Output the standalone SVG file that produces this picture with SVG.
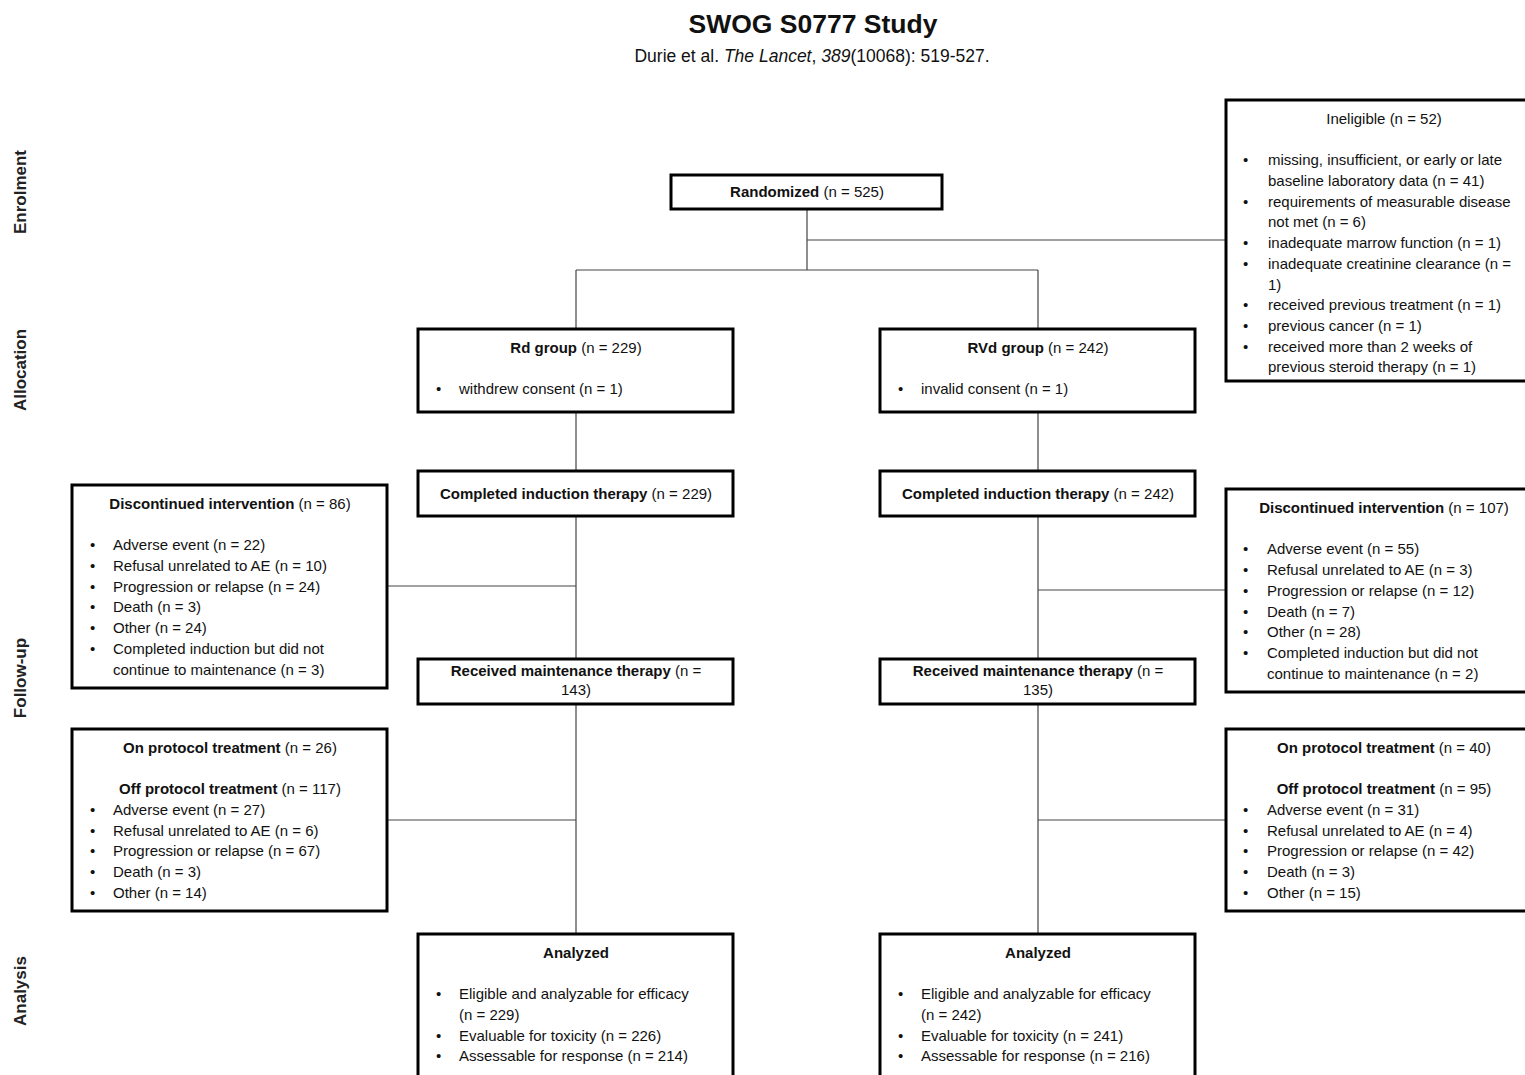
<svg xmlns="http://www.w3.org/2000/svg" width="1525" height="1075" viewBox="0 0 1525 1075">
<style>
text{font-family:"Liberation Sans",Arial,sans-serif;font-size:15px;fill:#111}
.b{font-weight:bold}
.c{text-anchor:middle}
.box{fill:#fff;stroke:#000;stroke-width:3}
.ln{stroke:#444;stroke-width:1.2;fill:none}
.ax{font-size:17px;text-anchor:middle;font-weight:bold;fill:#222}
</style>
<rect width="1525" height="1075" fill="#fff"/>
<g id="title">
<text x="813" y="33" class="b c" style="font-size:26.5px">SWOG S0777 Study</text>
<text x="812" y="62" class="c" style="font-size:17.5px">Durie et al. <tspan font-style="italic">The Lancet</tspan>, <tspan font-style="italic">389</tspan>(10068): 519-527.</text>
</g>
<g id="axis">
<text class="ax" transform="translate(26,192) rotate(-90)">Enrolment</text>
<text class="ax" transform="translate(26,370) rotate(-90)">Allocation</text>
<text class="ax" transform="translate(26,678) rotate(-90)">Follow-up</text>
<text class="ax" transform="translate(26,991) rotate(-90)">Analysis</text>
</g>
<g id="connectors">
<path class="ln" d="M807,209V270M807,240H1226M576,270H1038M576,270V329M1038,270V329"/>
<path class="ln" d="M576,412V471M576,516V659M576,704V934M387,586H576M387,820H576"/>
<path class="ln" d="M1038,412V471M1038,516V659M1038,704V934M1038,590H1226M1038,820H1226"/>
</g>
<g id="randomized">
<rect class="box" x="671" y="175" width="271" height="34"/>
<text x="807" y="197" class="c"><tspan class="b">Randomized</tspan> (n = 525)</text>
</g>
<g id="ineligible">
<rect class="box" x="1226" y="100" width="310" height="281"/>
<text x="1384" y="124" class="c">Ineligible (n = 52)</text>
<g>
<text x="1243" y="165">•</text><text x="1268" y="165">missing, insufficient, or early or late</text>
<text x="1268" y="186">baseline laboratory data (n = 41)</text>
<text x="1243" y="207">•</text><text x="1268" y="207">requirements of measurable disease</text>
<text x="1268" y="227">not met (n = 6)</text>
<text x="1243" y="248">•</text><text x="1268" y="248">inadequate marrow function (n = 1)</text>
<text x="1243" y="269">•</text><text x="1268" y="269">inadequate creatinine clearance (n =</text>
<text x="1268" y="290">1)</text>
<text x="1243" y="310">•</text><text x="1268" y="310">received previous treatment (n = 1)</text>
<text x="1243" y="331">•</text><text x="1268" y="331">previous cancer (n = 1)</text>
<text x="1243" y="352">•</text><text x="1268" y="352">received more than 2 weeks of</text>
<text x="1268" y="372">previous steroid therapy (n = 1)</text>
</g>
</g>
<g id="rd-group">
<rect class="box" x="418" y="329" width="315" height="83"/>
<text x="576" y="353" class="c"><tspan class="b">Rd group</tspan> (n = 229)</text>
<text x="436" y="394">•</text><text x="459" y="394">withdrew consent (n = 1)</text>
</g>
<g id="rvd-group">
<rect class="box" x="880" y="329" width="315" height="83"/>
<text x="1038" y="353" class="c"><tspan class="b">RVd group</tspan> (n = 242)</text>
<text x="898" y="394">•</text><text x="921" y="394">invalid consent (n = 1)</text>
</g>
<g id="rd-induction">
<rect class="box" x="418" y="471" width="315" height="45"/>
<text x="576" y="499" class="c"><tspan class="b">Completed induction therapy</tspan> (n = 229)</text>
</g>
<g id="rvd-induction">
<rect class="box" x="880" y="471" width="315" height="45"/>
<text x="1038" y="499" class="c"><tspan class="b">Completed induction therapy</tspan> (n = 242)</text>
</g>
<g id="rd-discontinued">
<rect class="box" x="72" y="485" width="315" height="203"/>
<text x="230" y="509" class="c"><tspan class="b">Discontinued intervention</tspan> (n = 86)</text>
<text x="90" y="550">•</text><text x="113" y="550">Adverse event (n = 22)</text>
<text x="90" y="571">•</text><text x="113" y="571">Refusal unrelated to AE (n = 10)</text>
<text x="90" y="592">•</text><text x="113" y="592">Progression or relapse (n = 24)</text>
<text x="90" y="612">•</text><text x="113" y="612">Death (n = 3)</text>
<text x="90" y="633">•</text><text x="113" y="633">Other (n = 24)</text>
<text x="90" y="654">•</text><text x="113" y="654">Completed induction but did not</text>
<text x="113" y="675">continue to maintenance (n = 3)</text>
</g>
<g id="rvd-discontinued">
<rect class="box" x="1226" y="489" width="310" height="203"/>
<text x="1384" y="513" class="c"><tspan class="b">Discontinued intervention</tspan> (n = 107)</text>
<text x="1243" y="554">•</text><text x="1267" y="554">Adverse event (n = 55)</text>
<text x="1243" y="575">•</text><text x="1267" y="575">Refusal unrelated to AE (n = 3)</text>
<text x="1243" y="596">•</text><text x="1267" y="596">Progression or relapse (n = 12)</text>
<text x="1243" y="617">•</text><text x="1267" y="617">Death (n = 7)</text>
<text x="1243" y="637">•</text><text x="1267" y="637">Other (n = 28)</text>
<text x="1243" y="658">•</text><text x="1267" y="658">Completed induction but did not</text>
<text x="1267" y="679">continue to maintenance (n = 2)</text>
</g>
<g id="rd-maintenance">
<rect class="box" x="418" y="659" width="315" height="45"/>
<text x="576" y="676" class="c"><tspan class="b">Received maintenance therapy</tspan> (n =</text>
<text x="576" y="695" class="c">143)</text>
</g>
<g id="rvd-maintenance">
<rect class="box" x="880" y="659" width="315" height="45"/>
<text x="1038" y="676" class="c"><tspan class="b">Received maintenance therapy</tspan> (n =</text>
<text x="1038" y="695" class="c">135)</text>
</g>
<g id="rd-protocol">
<rect class="box" x="72" y="729" width="315" height="182"/>
<text x="230" y="753" class="c"><tspan class="b">On protocol treatment</tspan> (n = 26)</text>
<text x="230" y="794" class="c"><tspan class="b">Off protocol treatment</tspan> (n = 117)</text>
<text x="90" y="815">•</text><text x="113" y="815">Adverse event (n = 27)</text>
<text x="90" y="836">•</text><text x="113" y="836">Refusal unrelated to AE (n = 6)</text>
<text x="90" y="856">•</text><text x="113" y="856">Progression or relapse (n = 67)</text>
<text x="90" y="877">•</text><text x="113" y="877">Death (n = 3)</text>
<text x="90" y="898">•</text><text x="113" y="898">Other (n = 14)</text>
</g>
<g id="rvd-protocol">
<rect class="box" x="1226" y="729" width="310" height="182"/>
<text x="1384" y="753" class="c"><tspan class="b">On protocol treatment</tspan> (n = 40)</text>
<text x="1384" y="794" class="c"><tspan class="b">Off protocol treatment</tspan> (n = 95)</text>
<text x="1243" y="815">•</text><text x="1267" y="815">Adverse event (n = 31)</text>
<text x="1243" y="836">•</text><text x="1267" y="836">Refusal unrelated to AE (n = 4)</text>
<text x="1243" y="856">•</text><text x="1267" y="856">Progression or relapse (n = 42)</text>
<text x="1243" y="877">•</text><text x="1267" y="877">Death (n = 3)</text>
<text x="1243" y="898">•</text><text x="1267" y="898">Other (n = 15)</text>
</g>
<g id="rd-analyzed">
<rect class="box" x="418" y="934" width="315" height="160"/>
<text x="576" y="958" class="c b">Analyzed</text>
<text x="436" y="999">•</text><text x="459" y="999">Eligible and analyzable for efficacy</text>
<text x="459" y="1020">(n = 229)</text>
<text x="436" y="1041">•</text><text x="459" y="1041">Evaluable for toxicity (n = 226)</text>
<text x="436" y="1061">•</text><text x="459" y="1061">Assessable for response (n = 214)</text>
</g>
<g id="rvd-analyzed">
<rect class="box" x="880" y="934" width="315" height="160"/>
<text x="1038" y="958" class="c b">Analyzed</text>
<text x="898" y="999">•</text><text x="921" y="999">Eligible and analyzable for efficacy</text>
<text x="921" y="1020">(n = 242)</text>
<text x="898" y="1041">•</text><text x="921" y="1041">Evaluable for toxicity (n = 241)</text>
<text x="898" y="1061">•</text><text x="921" y="1061">Assessable for response (n = 216)</text>
</g>
</svg>
